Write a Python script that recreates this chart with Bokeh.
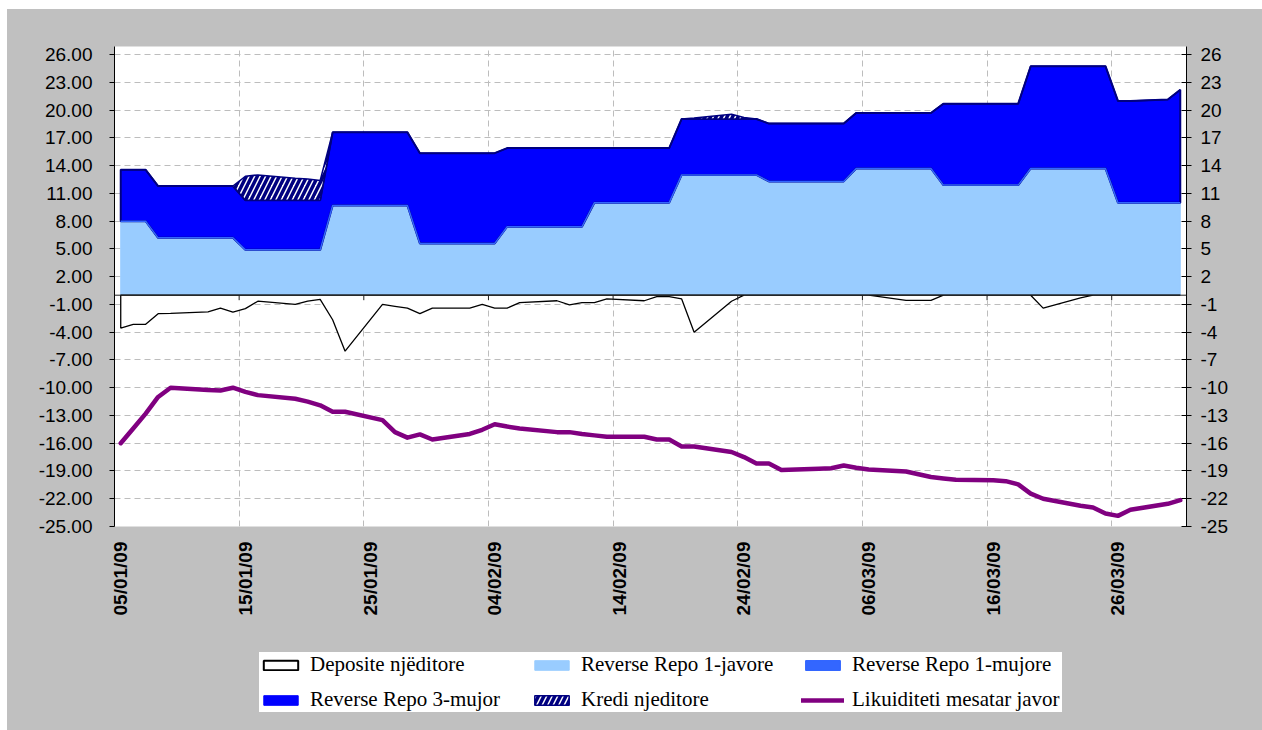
import math
import pandas as pd
from bokeh.plotting import figure
from bokeh.layouts import column
from bokeh.models import (Range1d, LinearAxis, FixedTicker, NumeralTickFormatter,
                          Span, Legend, LegendItem)
from bokeh.embed import file_html
from bokeh.resources import INLINE

# ---------------- data ----------------
dates = pd.bdate_range("2009-01-05", "2009-03-31")  # business days

tick_labels = ["05/01/09", "15/01/09", "25/01/09", "04/02/09", "14/02/09",
               "24/02/09", "06/03/09", "16/03/09", "26/03/09"]
y_ticks = [-25, -22, -19, -16, -13, -10, -7, -4, -1, 2, 5, 8, 11, 14, 17, 20, 23, 26]

rr_1javore = [8.0, 8.0, 8.0, 6.2, 6.2,
              6.2, 6.2, 6.2, 4.9, 4.9,
              4.9, 4.9, 4.9, 9.7, 9.7,
              9.7, 9.7, 9.7, 5.6, 5.6,
              5.6, 5.6, 5.6, 7.4, 7.4,
              7.4, 7.4, 7.4, 10.0, 10.0,
              10.0, 10.0, 10.0, 13.0, 13.0,
              13.0, 13.0, 13.0, 12.3, 12.3,
              12.3, 12.3, 12.3, 13.7, 13.7,
              13.7, 13.7, 13.7, 11.9, 11.9,
              11.9, 11.9, 11.9, 13.7, 13.7,
              13.7, 13.7, 13.7, 10.0, 10.0,
              10.0, 10.0]

rr_1mujore = [0.0] * 62

rr_3mujor = [5.55, 5.55, 5.55, 5.6, 5.6,
             5.6, 5.6, 5.6, 5.35, 5.35,
             5.35, 5.35, 5.35, 7.9, 7.9,
             7.9, 7.9, 7.9, 9.75, 9.75,
             9.75, 9.75, 9.75, 8.5, 8.5,
             8.5, 8.5, 8.5, 5.9, 5.9,
             5.9, 5.9, 5.9, 6.05, 6.05,
             6.05, 6.05, 6.05, 6.25, 6.25,
             6.25, 6.25, 6.25, 6.0, 6.0,
             6.0, 6.0, 6.0, 8.8, 8.8,
             8.8, 8.8, 8.8, 11.05, 11.05,
             11.05, 11.05, 11.05, 11.0, 11.0,
             11.15, 12.2]

kredi = [0, 0, 0, 0, 0,
         0, 0, 0, 2.6, 2.75,
         2.4, 2.3, 2.15, 0, 0,
         0, 0, 0, 0, 0,
         0, 0, 0, 0, 0,
         0, 0, 0, 0, 0,
         0, 0, 0, 0, 0.1,
         0.5, 0.15, 0, 0, 0,
         0, 0, 0, 0, 0,
         0, 0, 0, 0, 0,
         0, 0, 0, 0, 0,
         0, 0, 0, 0, 0,
         0, 0]

deposite = [-3.55, -3.15, -3.15, -2.0, -1.97,
            -1.8, -1.4, -1.82, -1.45, -0.65,
            -1.0, -0.65, -0.45, -2.65, -6.05,
            -1.0, -1.2, -1.4, -2.0, -1.4,
            -1.4, -1.0, -1.4, -1.4, -0.8,
            -0.6, -1.05, -0.8, -0.8, -0.4,
            -0.6, -0.15, -0.15, -0.4, -4.0,
            -0.65, 0.0, 0.0, 0.0, 0.0,
            0.0, 0.0, 0.0, 0.0, 0.0,
            -0.55, -0.55, -0.55, 0.0, 0.0,
            0.0, 0.0, 0.0, 0.0, -1.4,
            -0.3, 0.0, 0.0, 0.0, 0.0,
            0.0, 0.0]

likuiditeti = [-16.0, -14.4, -12.8, -11.0, -10.0,
               -10.25, -10.3, -10.0, -10.45, -10.8,
               -11.2, -11.5, -11.9, -12.6, -12.6,
               -13.5, -14.8, -15.4, -15.05, -15.6,
               -15.0, -14.55, -13.95, -14.2, -14.4,
               -14.8, -14.8, -15.0, -15.15, -15.3,
               -15.3, -15.6, -15.6, -16.35, -16.35,
               -16.95, -17.5, -18.2, -18.2, -18.9,
               -18.75, -18.7, -18.4, -18.65, -18.85,
               -19.05, -19.35, -19.65, -19.8, -19.95,
               -20.0, -20.1, -20.45, -21.45, -22.0,
               -22.75, -22.95, -23.6, -23.85, -23.2,
               -22.55, -22.15]

series_names = ["Deposite njëditore", "Reverse Repo 1-javore", "Reverse Repo 1-mujore",
                "Reverse Repo 3-mujor", "Kredi njeditore", "Likuiditeti mesatar javor"]

# ---------------- derived positions ----------------
start = dates[0]
x = [(d - start).days for d in dates]
n = len(x)
tick_pos = [(pd.to_datetime(t, format="%d/%m/%y") - start).days for t in tick_labels]
grid_pos = [t - 0.5 for t in tick_pos[1:]]

s1 = list(rr_1javore)
s2 = [a + b for a, b in zip(s1, rr_1mujore)]
s3 = [a + b for a, b in zip(s2, rr_3mujor)]
s4 = [a + b for a, b in zip(s3, kredi)]
zeros = [0.0] * n
xs = x + x[::-1]

FONT = "Liberation Sans"
GRAY = "#C0C0C0"
Y_TOP = 26.88
Y_BOT = -25
FRAME_H = 480
TICK_LEN = 5 * (Y_TOP - Y_BOT) / FRAME_H  # 5 px in data units

# styles, shared by the chart and the legend strip
st_dep = dict(fill_color="white", line_color="black", line_width=1.3)
st_rr1w = dict(fill_color="#99CCFF", line_color="#99CCFF", line_width=1)
st_rr1m = dict(fill_color="#3366FF", line_color="#3366FF", line_width=1.5)
st_rr3 = dict(fill_color="#0000FF", line_color="#000080", line_width=2)
st_kredi = dict(fill_color="white", hatch_pattern="/", hatch_color="#000080",
                hatch_weight=3.5, hatch_scale=11, line_color="#000080", line_width=1.5)
st_liq = dict(line_color="#800080", line_width=4.5, line_join="round", line_cap="round")


def draw_series(fig, legend_glyphs=False):
    r = {}
    r["rr1w"] = fig.patch(xs, s1 + zeros[::-1], **st_rr1w)
    rr3_style = dict(st_rr3)
    if legend_glyphs:
        rr3_style.update(line_color="#0000FF", line_width=1)
    r["rr3"] = fig.patch(xs, s3 + s2[::-1], **rr3_style)
    r["rr1m"] = fig.patch(xs, s2 + s1[::-1], **st_rr1m)
    r["kredi"] = fig.patch(xs, s4 + s3[::-1], **st_kredi)
    dep_style = dict(st_dep)
    if legend_glyphs:
        dep_style["line_width"] = 2
    r["dep"] = fig.patch(xs, deposite + zeros[::-1], **dep_style)
    if not legend_glyphs:
        fig.add_layout(Span(location=0, dimension="width", line_color="#202020",
                            line_width=1))
        # category-axis tick marks on the zero line
        fig.segment(x0=grid_pos, y0=[0] * len(grid_pos), x1=grid_pos,
                    y1=[-TICK_LEN] * len(grid_pos), line_color="#202020", line_width=1)
    r["liq"] = fig.line(x, likuiditeti, **st_liq)
    return r


p = figure(width=1255, height=621, output_backend="svg", toolbar_location=None,
           x_range=Range1d(-0.5, 85.5), y_range=Range1d(Y_BOT, Y_TOP),
           min_border_left=107, min_border_right=76, min_border_top=37,
           min_border_bottom=104,
           background_fill_color="white", border_fill_color=GRAY,
           outline_line_color=None)
draw_series(p)

# grids
p.xgrid.ticker = FixedTicker(ticks=grid_pos)
p.ygrid.ticker = FixedTicker(ticks=y_ticks)
for g in (p.xgrid[0], p.ygrid[0]):
    g.grid_line_color = "#BDBDBD"
    g.grid_line_dash = "6 4"
    g.grid_line_width = 1

# left axis
ya = p.yaxis[0]
ya.ticker = FixedTicker(ticks=y_ticks)
ya.formatter = NumeralTickFormatter(format="0.00")
ya.axis_line_color = "black"
ya.major_tick_line_color = "black"
ya.major_tick_out = 5
ya.major_tick_in = 0
ya.minor_tick_line_color = None
ya.major_label_standoff = 17
ya.major_label_text_font = FONT
ya.major_label_text_font_size = "19px"
ya.major_label_text_color = "black"

# right axis
ra = LinearAxis(ticker=FixedTicker(ticks=y_ticks),
                formatter=NumeralTickFormatter(format="0"))
ra.axis_line_color = "black"
ra.major_tick_line_color = "black"
ra.major_tick_out = 5
ra.major_tick_in = 5
ra.minor_tick_line_color = None
ra.major_label_standoff = 9
ra.major_label_text_font = FONT
ra.major_label_text_font_size = "19px"
ra.major_label_text_color = "black"
p.add_layout(ra, "right")

# bottom axis
xa = p.xaxis[0]
xa.ticker = FixedTicker(ticks=tick_pos)
xa.major_label_overrides = {t: l for t, l in zip(tick_pos, tick_labels)}
xa.major_label_orientation = math.pi / 2
xa.axis_line_color = None
xa.major_tick_line_color = None
xa.minor_tick_line_color = None
xa.major_label_standoff = 9
xa.major_label_text_font = FONT
xa.major_label_text_font_style = "bold"
xa.major_label_text_font_size = "19px"
xa.major_label_text_color = "black"

# ---------------- legend strip ----------------
# same series drawn again, but with a y range far outside the data so only
# the legend glyphs show
q = figure(width=1255, height=100, output_backend="svg", toolbar_location=None,
           x_range=Range1d(-0.5, 85.5), y_range=Range1d(1000, 1001),
           x_axis_location=None, y_axis_location=None,
           min_border=0, min_border_left=0, min_border_right=0,
           min_border_top=0, min_border_bottom=0,
           background_fill_color=GRAY, border_fill_color=GRAY,
           outline_line_color=GRAY, outline_line_width=3)
q.grid.visible = False
rq = draw_series(q, legend_glyphs=True)
order = ["dep", "rr1w", "rr1m", "rr3", "kredi", "liq"]
items = [LegendItem(label=nm, renderers=[rq[k]]) for nm, k in zip(series_names, order)]
legend = Legend(items=items, location=(145, 18), orientation="horizontal", ncols=3,
                padding=14, margin=0, spacing=10, label_standoff=8,
                glyph_width=43, glyph_height=12, label_width=210,
                label_text_font="Liberation Serif", label_text_font_size="21px",
                label_text_color="black",
                background_fill_color="white", background_fill_alpha=1,
                border_line_color=None)
q.add_layout(legend, "center")

layout = column(p, q, spacing=0, margin=(9, 0, 0, 7),
                styles={"background-color": GRAY})

open("out.html", "w").write(file_html(layout, INLINE))
